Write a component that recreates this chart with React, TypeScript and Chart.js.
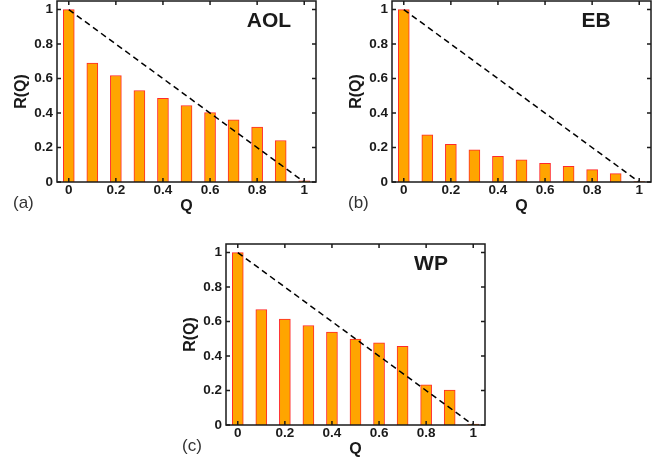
import React, { useEffect, useRef } from 'react';
import { Chart, registerables } from 'chart.js';

Chart.register(...registerables);

// ---- data ----
const Q_VALUES = [0, 0.1, 0.2, 0.3, 0.4, 0.5, 0.6, 0.7, 0.8, 0.9, 1.0];
const AOL_VALUES = [1.0, 0.69, 0.618, 0.531, 0.485, 0.444, 0.403, 0.361, 0.318, 0.241, 0.007];
const EB_VALUES = [1.0, 0.273, 0.219, 0.186, 0.149, 0.128, 0.109, 0.091, 0.072, 0.049, 0.003];
const WP_VALUES = [1.0, 0.67, 0.614, 0.577, 0.539, 0.498, 0.477, 0.457, 0.233, 0.203, 0.005];
const DIAGONAL_Q = [0, 1];
const DIAGONAL_R = [1, 0];
const X_TICKS = [0, 0.2, 0.4, 0.6, 0.8, 1];
const X_TICK_LABELS = ['0', '0.2', '0.4', '0.6', '0.8', '1'];
const Y_TICKS = [0, 0.2, 0.4, 0.6, 0.8, 1];
const Y_TICK_LABELS = ['0', '0.2', '0.4', '0.6', '0.8', '1'];
const PANEL_TITLES = ['AOL', 'EB', 'WP'];
const PANEL_LETTERS = ['(a)', '(b)', '(c)'];
const X_LABEL = 'Q';
const Y_LABEL = 'R(Q)';

const FONT = '"Liberation Sans", Arial, Helvetica, sans-serif';
const CW = 330;
const CH = 217;

const framePlugin = {
  id: 'frameTicks',
  afterDatasetsDraw(chart: any) {
    const { ctx, chartArea: a, scales } = chart;
    const x = scales.x;
    const y = scales.y;
    ctx.save();
    ctx.strokeStyle = '#1a1a1a';
    ctx.lineWidth = 1.5;
    ctx.strokeRect(a.left, a.top, a.right - a.left, a.bottom - a.top);
    ctx.beginPath();
    const t = 4;
    X_TICKS.forEach((v) => {
      const px = x.getPixelForValue(v);
      ctx.moveTo(px, a.bottom);
      ctx.lineTo(px, a.bottom - t);
      ctx.moveTo(px, a.top);
      ctx.lineTo(px, a.top + t);
    });
    Y_TICKS.forEach((v) => {
      const py = y.getPixelForValue(v);
      ctx.moveTo(a.left, py);
      ctx.lineTo(a.left + t, py);
      ctx.moveTo(a.right, py);
      ctx.lineTo(a.right - t, py);
    });
    ctx.stroke();
    ctx.restore();
  },
};

const textPlugin = {
  id: 'panelText',
  afterDraw(chart: any, _args: any, opts: any) {
    const { ctx, chartArea: a } = chart;
    ctx.save();
    ctx.fillStyle = '#1a1a1a';
    ctx.font = `bold 21px ${FONT}`;
    ctx.textAlign = 'center';
    ctx.textBaseline = 'middle';
    ctx.fillText(opts.title, a.left + opts.titleDx, a.top + 20);
    ctx.font = `17px ${FONT}`;
    ctx.fillStyle = '#333';
    ctx.textAlign = 'left';
    ctx.fillText(opts.letter, a.left - 44, a.bottom + 21);
    ctx.restore();
  },
};

type PanelCfg = { values: number[]; title: string; letter: string; left: number; top: number; titleDx: number };

function Panel({ cfg }: { cfg: PanelCfg }) {
  const ref = useRef<HTMLCanvasElement>(null);
  useEffect(() => {
    if (!ref.current) return;
    const chart = new Chart(ref.current, {
      type: 'bar',
      data: {
        datasets: [
          {
            type: 'line',
            data: DIAGONAL_Q.map((q, i) => ({ x: q, y: DIAGONAL_R[i] })),
            borderColor: '#000',
            borderWidth: 1.5,
            borderDash: [6, 4],
            pointRadius: 0,
            fill: false,
            order: 0,
          } as any,
          {
            type: 'bar',
            data: Q_VALUES.map((q, i) => ({ x: q, y: cfg.values[i] })),
            backgroundColor: '#ffa500',
            borderColor: '#ff2a2a',
            borderWidth: 1,
            barThickness: 11,
            order: 1,
          } as any,
        ],
      },
      options: {
        animation: false,
        responsive: false,
        maintainAspectRatio: false,
        layout: { autoPadding: false, padding: { left: 0, top: 1, right: 14, bottom: 0 } },
        plugins: {
          legend: { display: false },
          tooltip: { enabled: false },
          panelText: { title: cfg.title, letter: cfg.letter, titleDx: cfg.titleDx },
        } as any,
        scales: {
          x: {
            type: 'linear',
            min: -0.05,
            max: 1.05,
            offset: false,
            grid: { display: false, drawTicks: false },
            border: { display: false },
            ticks: {
              autoSkip: false,
              padding: 0,
              color: '#1a1a1a',
              font: { family: FONT, size: 13.5, weight: 'bold' },
              callback: (_v: any, i: number) => X_TICK_LABELS[i],
            },
            afterBuildTicks: (s: any) => {
              s.ticks = X_TICKS.map((v) => ({ value: v }));
            },
            afterFit: (s: any) => {
              s.height = 35;
              s.paddingLeft = 0;
              s.paddingRight = 0;
            },
            title: {
              display: true,
              text: X_LABEL,
              color: '#1a1a1a',
              font: { family: FONT, size: 16, weight: 'bold' },
              padding: { top: 0, bottom: 1 },
            },
          },
          y: {
            type: 'linear',
            min: 0,
            max: 1.05,
            grid: { display: false, drawTicks: false },
            border: { display: false },
            ticks: {
              autoSkip: false,
              padding: 4,
              color: '#1a1a1a',
              font: { family: FONT, size: 13.5, weight: 'bold' },
              callback: (_v: any, i: number) => Y_TICK_LABELS[i],
            },
            afterBuildTicks: (s: any) => {
              s.ticks = Y_TICKS.map((v) => ({ value: v }));
            },
            afterFit: (s: any) => {
              s.width = 57;
              s.paddingTop = 0;
              s.paddingBottom = 0;
            },
            title: {
              display: true,
              text: Y_LABEL,
              color: '#1a1a1a',
              font: { family: FONT, size: 16, weight: 'bold' },
              padding: { top: 12, bottom: 0 },
            },
          },
        } as any,
      },
      plugins: [framePlugin, textPlugin],
    });
    return () => chart.destroy();
  }, [cfg]);
  return (
    <canvas
      ref={ref}
      width={CW}
      height={CH}
      style={{ position: 'absolute', left: cfg.left, top: cfg.top, width: CW, height: CH }}
    />
  );
}

const PANELS: PanelCfg[] = [
  { values: AOL_VALUES, title: PANEL_TITLES[0], letter: PANEL_LETTERS[0], left: 0, top: 0, titleDx: 212 },
  { values: EB_VALUES, title: PANEL_TITLES[1], letter: PANEL_LETTERS[1], left: 335, top: 0, titleDx: 204 },
  { values: WP_VALUES, title: PANEL_TITLES[2], letter: PANEL_LETTERS[2], left: 169, top: 243, titleDx: 205 },
];

export default function App() {
  return (
    <div style={{ position: 'absolute', left: 0, top: 0, width: 667, height: 463, background: '#fff', overflow: 'hidden' }}>
      {PANELS.map((p, i) => (
        <Panel key={i} cfg={p} />
      ))}
    </div>
  );
}
